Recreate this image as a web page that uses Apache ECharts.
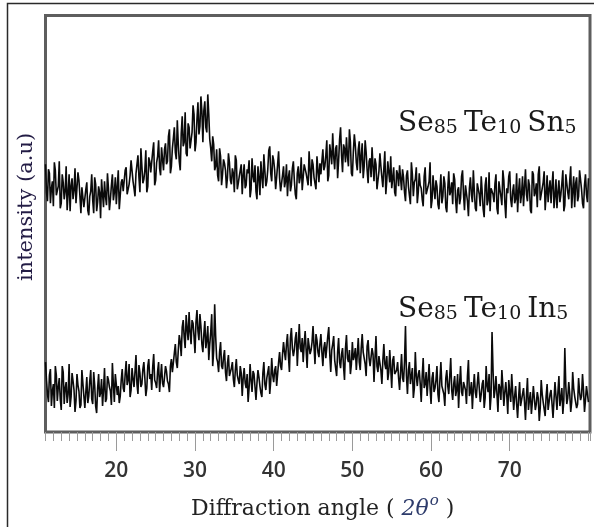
<!DOCTYPE html>
<html><head><meta charset="utf-8">
<script src="https://cdn.jsdelivr.net/npm/echarts@6/dist/echarts.min.js"></script>
<style>html,body{margin:0;padding:0;background:#fff}#c{width:594px;height:527px}</style>
</head><body><div id="c"></div>
<script>
// 2θ grid of the scan (degrees): main samples every 0.25°, in-between samples offset by 0.125°
const angleStart = 11;
const angleStep = 0.25;
const midOffset = 0.125;
const axisMin = 11;
const axisMax = 80.2;
const majorTicks = [20, 30, 40, 50, 60, 70];

// Se85 Te10 Sn5 (upper pattern), intensity in arbitrary units, at 11, 11.25, ... 80
const intensitySn = [
  268,231,259,244,226,262,236,271,229,250,241,222,258,247,233,264,228,252,219,246,
  226,250,217,241,232,255,221,246,214,238,251,227,244,233,258,240,228,262,237,253,
  241,265,236,257,270,244,259,277,240,266,253,282,246,271,258,290,252,276,264,285,
  262,289,271,303,266,294,280,312,271,299,286,320,276,305,292,327,281,313,298,336,
  290,331,300,318,284,296,262,283,251,276,258,269,244,279,252,264,240,272,249,262,
  238,268,247,259,235,274,250,241,266,237,256,278,246,263,286,251,272,243,268,254,
  240,266,251,236,262,247,271,238,259,249,275,242,266,253,281,246,268,257,276,250,
  258,283,266,292,257,279,299,263,287,271,305,260,284,295,266,290,256,298,270,283,
  259,289,266,280,249,274,285,251,268,242,279,255,264,238,271,250,244,265,236,258,
  267,242,255,231,262,247,270,236,253,229,259,244,226,265,238,251,224,257,233,246,
  223,258,236,249,220,261,241,228,253,219,245,234,262,222,247,216,255,230,241,221,
  249,226,240,215,255,232,221,246,230,258,218,243,227,252,214,239,261,225,248,233,
  220,254,238,226,263,231,247,219,258,240,225,266,234,250,222,257,243,229,261,236,
  224,252,238,262,227,249,233,266,241,225,255,236,260,229,247,238,254
];
// Se85 Te10 Sn5 at 11.125, 11.375, ... 79.875
const intensitySnMid = [
  240,263,229,251,270,237,246,224,258,233,266,239,221,254,242,229,260,236,245,225,
  243,222,236,258,219,248,230,240,253,225,236,259,222,247,232,255,246,223,250,241,
  262,238,248,272,251,236,268,255,284,249,262,240,275,260,281,247,270,292,257,273,
  283,268,296,259,284,305,273,288,262,316,290,279,309,284,300,318,290,330,306,321,
  322,305,338,293,271,288,266,257,284,247,273,262,255,270,248,259,277,243,256,268,
  257,244,263,272,243,256,267,233,255,271,244,262,251,282,259,277,262,255,281,241,
  257,245,268,255,241,264,252,233,266,255,242,268,259,247,263,273,255,243,262,269,
  271,262,277,251,288,268,276,284,254,293,277,288,270,276,303,259,281,287,262,291,
  276,254,292,262,271,255,266,274,243,261,266,245,281,252,260,276,254,240,262,246,
  254,263,240,257,246,228,258,250,265,240,247,233,256,238,246,270,232,243,252,228,
  242,229,256,225,244,237,250,259,232,242,228,256,238,247,231,244,238,262,224,249,
  238,256,223,247,227,260,244,238,249,224,251,236,262,230,244,256,233,241,229,259,
  241,229,256,245,238,253,222,261,236,249,258,232,244,261,238,230,252,247,224,253,
  240,230,249,221,258,240,252,224,256,249,231,262,243,224,258,230
];

// Se85 Te10 In5 (lower pattern) at 11, 11.25, ... 80
const intensityIn = [
  70,38,57,26,48,66,31,54,22,60,44,29,68,35,51,20,58,41,27,49,
  24,55,36,62,28,47,19,58,39,26,64,33,52,41,69,30,57,46,36,63,
  40,71,52,35,64,45,77,38,59,48,70,36,66,53,42,78,49,61,40,68,
  45,66,51,40,73,58,88,64,97,76,112,84,103,120,88,109,79,122,92,106,
  80,111,92,72,100,66,128,74,60,90,63,82,51,77,58,70,45,73,52,66,
  36,64,44,30,68,40,58,32,62,46,35,70,42,60,38,74,50,66,58,80,
  62,90,72,98,60,104,76,94,66,108,80,70,101,64,96,82,106,68,92,75,
  98,66,90,76,105,60,88,72,56,94,64,84,52,97,70,58,90,76,62,94,
  62,98,74,56,92,66,84,50,96,60,78,48,88,63,52,82,44,76,56,70,
  42,78,50,106,38,70,56,34,80,46,62,30,74,48,36,68,28,60,44,66,
  30,70,46,26,62,38,74,32,56,42,24,66,36,52,28,72,40,23,58,34,
  60,30,48,24,66,40,22,100,34,56,20,44,62,26,50,18,40,58,22,46,
  14,50,28,44,12,54,32,18,46,22,40,11,52,30,16,48,24,42,14,50,
  22,56,34,18,84,28,50,20,60,36,24,54,32,58,20,46,30
];
// Se85 Te10 In5 at 11.125, 11.375, ... 79.875
const intensityInMid = [
  52,30,63,41,24,57,45,33,66,28,50,38,25,59,42,31,47,24,62,36,
  40,29,51,33,60,26,44,35,53,42,30,56,45,27,48,58,37,29,52,44,
  58,47,68,42,53,60,48,67,45,63,54,44,73,58,65,52,44,70,55,49,
  55,61,48,66,60,79,70,82,90,105,95,117,92,100,112,96,110,101,118,88,
  98,84,106,88,118,82,96,70,80,66,75,60,69,56,64,53,62,57,48,59,
  54,49,58,44,52,61,45,49,55,39,59,48,54,66,51,57,62,46,70,66,
  78,80,88,76,94,84,82,100,88,84,94,88,82,94,78,90,86,98,80,88,
  80,84,74,96,78,82,96,64,80,70,78,66,84,74,82,68,72,84,78,70,
  84,80,68,86,74,68,78,74,66,76,62,72,68,76,60,64,72,58,62,54,
  60,54,70,56,62,48,64,44,56,58,48,56,44,60,52,44,54,40,52,38,
  52,46,38,54,46,56,42,48,36,58,48,40,50,42,56,36,50,44,40,48,
  44,38,52,34,46,58,36,62,42,38,48,32,46,40,36,52,30,40,36,28,
  34,26,38,30,36,22,40,30,34,28,34,24,38,28,36,22,38,28,32,36,
  40,26,44,32,46,34,38,30,44,34,28,40,36,42,32,38
];

const labelSn = ['Se', '85', 'Te', '10', 'Sn', '5'];
const labelIn = ['Se', '85', 'Te', '10', 'In', '5'];
const xTitle = 'Diffraction angle';
const yTitle = 'intensity (a.u)';

function toPairs(main, mid) {
  const out = [];
  for (let i = 0; i < main.length; i++) {
    out.push([angleStart + i * angleStep, main[i]]);
    if (i < mid.length) out.push([angleStart + midOffset + i * angleStep, mid[i]]);
  }
  return out;
}
function formula(parts) {
  return '{b|' + parts[0] + '}{s|' + parts[1] + ' }{b|' + parts[2] + '}{s|' + parts[3] + ' }{b|' + parts[4] + '}{s|' + parts[5] + '}';
}
const serif = '"DejaVu Serif", serif';
const richF = {
  b: { fontFamily: serif, fontSize: 28, lineHeight: 30, verticalAlign: 'bottom', fill: '#1a1a1a', color: '#1a1a1a' },
  s: { fontFamily: serif, fontSize: 19, lineHeight: 23, verticalAlign: 'bottom', fill: '#1a1a1a', color: '#1a1a1a' }
};

const chart = echarts.init(document.getElementById('c'), null, { renderer: 'canvas' });
chart.setOption({
  animation: false,
  backgroundColor: '#fff',
  grid: { left: 45.5, top: 15.5, right: 4, bottom: 95, show: true, borderColor: '#5e5e5e', borderWidth: 3, backgroundColor: 'transparent' },
  xAxis: [
    { type: 'value', min: axisMin, max: axisMax, interval: 1, position: 'bottom',
      axisLine: { show: false }, splitLine: { show: false },
      axisTick: { show: true, length: 9, lineStyle: { color: '#9a9a9a', width: 1 } },
      axisLabel: { show: false } },
    { type: 'value', min: axisMin, max: axisMax, position: 'bottom',
      axisLine: { show: false }, splitLine: { show: false },
      axisTick: { show: true, length: 19, customValues: majorTicks, lineStyle: { color: '#9a9a9a', width: 1 } },
      axisLabel: { show: true, customValues: majorTicks, margin: 29, fontFamily: '"Open Sans", sans-serif', fontWeight: 600, fontSize: 21, color: '#333' } }
  ],
  yAxis: { type: 'value', min: 0, max: 417, show: true, axisLine: { show: false }, axisTick: { show: false }, axisLabel: { show: false }, splitLine: { show: false } },
  series: [
    { type: 'line', data: toPairs(intensitySn, intensitySnMid), showSymbol: false, xAxisIndex: 0, lineStyle: { color: '#0a0a0a', width: 1.6 }, z: 3 },
    { type: 'line', data: toPairs(intensityIn, intensityInMid), showSymbol: false, xAxisIndex: 0, lineStyle: { color: '#0a0a0a', width: 1.6 }, z: 3 }
  ],
  graphic: [
    { type: 'rect', shape: { x: 7.5, y: 3.5, width: 700, height: 700 }, style: { fill: 'none', stroke: '#2a2a2a', lineWidth: 1.5 }, silent: true },
    { type: 'text', x: 398, y: 108, style: { text: formula(labelSn), rich: richF } },
    { type: 'text', x: 398, y: 294, style: { text: formula(labelIn), rich: richF } },
    { type: 'text', x: 191, y: 494, style: {
        text: '{n|' + xTitle + ' ( }{i|2θ}{u|o}{n| )}',
        rich: {
          n: { fontFamily: serif, fontSize: 22, lineHeight: 26, verticalAlign: 'bottom', fill: '#222' },
          i: { fontFamily: serif, fontSize: 22, fontStyle: 'italic', lineHeight: 26, verticalAlign: 'bottom', fill: '#2d3b6b' },
          u: { fontFamily: serif, fontSize: 15, fontStyle: 'italic', lineHeight: 26, verticalAlign: 'top', fill: '#2d3b6b', padding: [0, 0, 10, 1] }
        } } },
    { type: 'text', x: 27, y: 207, rotation: Math.PI / 2, style: { text: yTitle, fontFamily: serif, fontSize: 21, fill: '#231c45', align: 'center', verticalAlign: 'middle' } }
  ]
});
</script></body></html>
